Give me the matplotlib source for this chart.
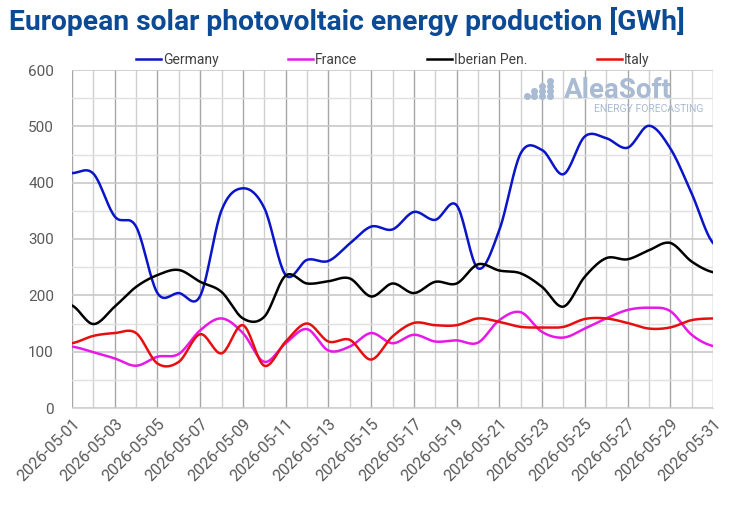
import numpy as np
import pandas as pd
import matplotlib
matplotlib.use("Agg")
import matplotlib.pyplot as plt
from matplotlib.ticker import MultipleLocator

plt.rcParams['font.family'] = ['Roboto', 'DejaVu Sans']

dates = pd.date_range("2026-05-01", "2026-05-31", freq="D")

germany = [417, 416, 340, 322, 204, 204, 199, 351, 390, 355, 236, 263, 261, 292, 322,
           317, 348, 334, 360, 248, 316, 452, 458, 415, 482, 479, 462, 501, 461, 381, 293]
france = [109, 99, 88, 75, 91, 96, 138, 159, 133, 82, 115, 140, 102, 109, 133,
          115, 130, 118, 120, 116, 156, 170, 135, 125, 141, 159, 174, 178, 172, 130, 110]
iberian = [182, 149, 180, 215, 236, 245, 224, 206, 159, 162, 235, 221, 225, 230, 198,
           221, 204, 224, 221, 255, 244, 239, 215, 180, 233, 266, 264, 280, 293, 260, 241]
italy = [115, 128, 133, 133, 79, 82, 131, 97, 147, 75, 118, 150, 118, 121, 86,
         127, 151, 147, 147, 159, 153, 144, 143, 144, 158, 159, 151, 141, 143, 156, 159]

series = [("Germany", germany, "#0a14c8"),
          ("France", france, "#e619e6"),
          ("Iberian Pen.", iberian, "#000000"),
          ("Italy", italy, "#e60f0f")]


def smooth(y, n=20):
    # Catmull-Rom style smoothing, like Excel's smoothed lines
    y = np.asarray(y, dtype=float)
    p = np.concatenate([[y[0]], y, [y[-1]]])
    xs, ys = [], []
    for i in range(len(y) - 1):
        p0, p1, p2, p3 = p[i], p[i + 1], p[i + 2], p[i + 3]
        t = np.linspace(0, 1, n, endpoint=False)
        c1 = p1 + (p2 - p0) / 6
        c2 = p2 - (p3 - p1) / 6
        b = ((1 - t) ** 3 * p1 + 3 * (1 - t) ** 2 * t * c1
             + 3 * (1 - t) * t ** 2 * c2 + t ** 3 * p2)
        xs.append(i + t)
        ys.append(b)
    xs.append([len(y) - 1])
    ys.append([y[-1]])
    return np.concatenate(xs), np.concatenate(ys)


fig = plt.figure(figsize=(7.3, 5.09), dpi=100)
ax = fig.add_axes([72 / 730, 1 - 408 / 509, (713 - 72) / 730, (408 - 70) / 509])

x = np.arange(len(dates))
for name, vals, col in series:
    sx, sy = smooth(vals)
    ax.plot(sx, sy, color=col, lw=1.8, label=name, zorder=3)

ax.set_xlim(0, len(dates) - 1)
ax.set_ylim(0, 600)
ax.yaxis.set_major_locator(MultipleLocator(100))
ax.yaxis.set_minor_locator(MultipleLocator(50))
ax.set_xticks(x[::2])
ax.set_xticks(x[1::2], minor=True)
ax.set_xticklabels([d.strftime("%Y-%m-%d") for d in dates[::2]],
                   rotation=45, ha="right", rotation_mode="anchor")

ax.grid(which="major", axis="y", color="#c8c8c8", lw=1.2)
ax.grid(which="minor", axis="y", color="#e0e0e0", lw=1.0)
ax.grid(which="major", axis="x", color="#a6a6a6", lw=1.0)
ax.grid(which="minor", axis="x", color="#d0d0d0", lw=1.0)
ax.set_axisbelow(True)

for s in ["top", "right", "left"]:
    ax.spines[s].set_visible(False)
ax.spines["bottom"].set_color("#d9d9d9")
ax.tick_params(which="both", length=0)
ax.tick_params(axis="y", labelsize=11, labelcolor="#595959", pad=13)
ax.tick_params(axis="x", labelsize=11.5, labelcolor="#595959", pad=6)

ax.legend(loc="center", bbox_to_anchor=(0.5, 1.03), ncol=4, frameon=False,
          fontsize=10, handlelength=1.8, handletextpad=0.15, columnspacing=5.0,
          labelcolor="#404040", borderpad=0)

fig.text(0.013, 0.957, "European solar photovoltaic energy production [GWh]",
         fontsize=20.3, fontweight="bold", color="#0d4a94", va="center")

# watermark logo
logo = "#a9bad3"
dot_x = [0.71, 0.721, 0.721, 0.733, 0.733, 0.733, 0.745, 0.745, 0.745, 0.745]
dot_y = [0.922, 0.922, 0.937, 0.922, 0.937, 0.952, 0.922, 0.937, 0.952, 0.967]
ax.scatter(dot_x, dot_y, s=16, color=logo, transform=ax.transAxes, zorder=2,
           clip_on=False)
ax.text(0.936, 0.94, "AleaSoft", transform=ax.transAxes, fontsize=20, color=logo,
        ha="right", va="center", fontweight="bold")
ax.text(0.985, 0.884, "ENERGY FORECASTING", transform=ax.transAxes, fontsize=7.5,
        color=logo, ha="right", va="center")

fig.savefig("out.png", dpi=100)
